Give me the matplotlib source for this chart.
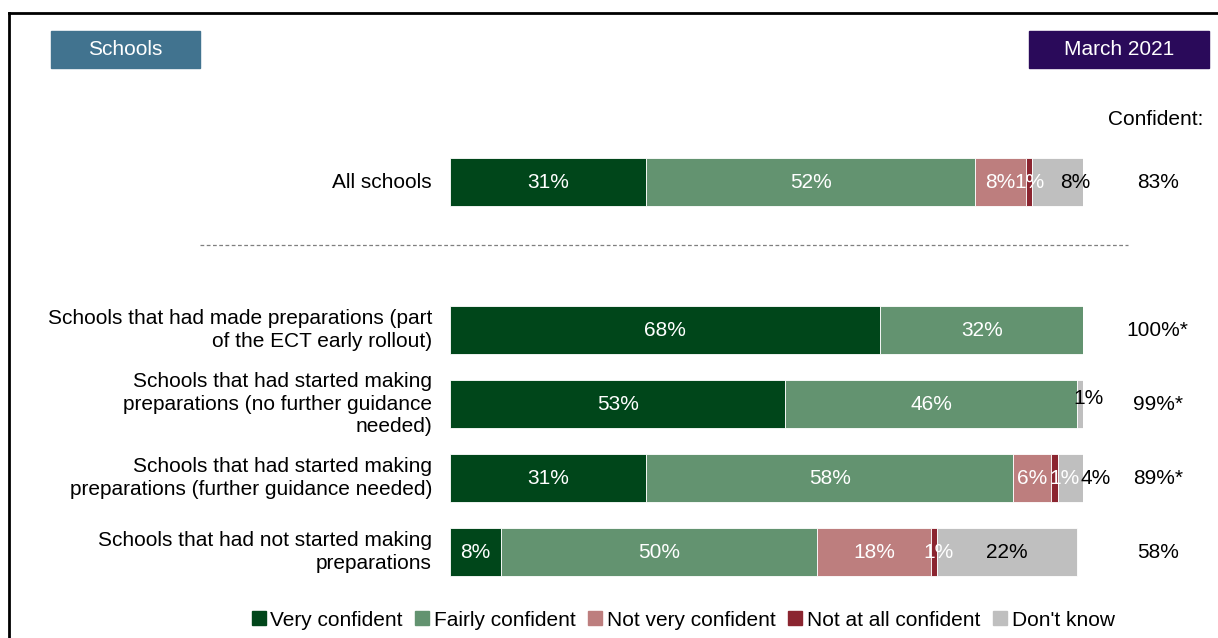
import matplotlib.pyplot as plt
from matplotlib.lines import Line2D
from matplotlib.patches import Rectangle

plt.rcParams['font.family'] = ['Liberation Sans', 'DejaVu Sans']

# survey groups, top to bottom (row 0 is the overall figure)
groups = [
    "All schools",
    "Schools that had made preparations (part\nof the ECT early rollout)",
    "Schools that had started making\npreparations (no further guidance\nneeded)",
    "Schools that had started making\npreparations (further guidance needed)",
    "Schools that had not started making\npreparations",
]
rows = [0, 2, 3, 4, 5]

very_conf = [31, 68, 53, 31, 8]
fairly_conf = [52, 32, 46, 58, 50]
not_very = [8, 0, 0, 6, 18]
not_at_all = [1, 0, 0, 1, 1]
dont_know = [8, 0, 1, 4, 22]
confident_total = ["83%", "100%*", "99%*", "89%*", "58%"]

series = [very_conf, fairly_conf, not_very, not_at_all, dont_know]
names = ["Very confident", "Fairly confident", "Not very confident",
         "Not at all confident", "Don't know"]
colors = ["#00461a", "#639370", "#bd7e7e", "#8b2530", "#bfbfbf"]
label_colors = ["white", "white", "white", "white", "black"]
# sideways nudges (in % units) for labels on thin segments
nudge = {(0, 4): 2.8, (2, 4): 1.4, (3, 3): 1.6, (3, 4): 4.0, (4, 3): 0.6}

FS = 15
W, H = 1218, 638
fig = plt.figure(figsize=(W / 100, H / 100), dpi=100)

# bar area: 0% at x=450px, 100% at x=1083px; rows spaced 74px
ax = fig.add_axes([450 / W, (H - 626) / H, 633 / W, 518 / H])
ax.set_xlim(0, 100)
ax.set_ylim(6, -1)
ax.axis("off")

left = [0] * len(rows)
for k, vals in enumerate(series):
    ax.barh(rows, vals, left=left, height=0.66, color=colors[k],
            edgecolor="white", linewidth=0.6)
    for i, v in enumerate(vals):
        if v > 0:
            x = left[i] + v / 2 + nudge.get((i, k), 0)
            y = rows[i] - (0.08 if (i, k) == (2, 4) else 0)
            ax.text(x, y, f"{v}%", ha="center", va="center",
                    color=label_colors[k], fontsize=FS, clip_on=False)
    left = [a + b for a, b in zip(left, vals)]

for r, g, t in zip(rows, groups, confident_total):
    ax.annotate(g, xy=(0, r), xytext=(-18, 0), textcoords="offset pixels",
                ha="right", va="center", fontsize=FS, linespacing=1.25)
    ax.text(111.8, r, t, ha="center", va="center", fontsize=FS, clip_on=False)

ax.text(111.5, -0.84, "Confident:", ha="center", va="center", fontsize=FS,
        clip_on=False)

# dashed separator below the overall row
fig.add_artist(Line2D([200 / W, 1128 / W], [(H - 245) / H] * 2,
                      color="#7f7f7f", lw=0.9, ls=(0, (3, 2))))

# outer frame (top and left edges)
fig.add_artist(Line2D([9 / W, 1], [(H - 13) / H] * 2, color="black", lw=2))
fig.add_artist(Line2D([9 / W] * 2, [0, (H - 13) / H], color="black", lw=2))

# header tags
for (x0, x1), txt, col in [((51, 200), "Schools", "#41738f"),
                           ((1029, 1209), "March 2021", "#2a0a5a")]:
    fig.add_artist(Rectangle((x0 / W, (H - 68) / H), (x1 - x0) / W, 37 / H,
                             color=col, transform=fig.transFigure))
    fig.text((x0 + x1) / 2 / W, (H - 49.5) / H, txt, color="white",
             ha="center", va="center", fontsize=FS)

handles = [Line2D([], [], marker="s", ls="none", color=c, markersize=9.5)
           for c in colors]
fig.legend(handles, names, loc="center", bbox_to_anchor=(683 / W, 18 / H),
           ncol=5, frameon=False, fontsize=FS, handletextpad=0.2,
           columnspacing=0.6, handlelength=0.7)

fig.savefig("out.png", dpi=100)
